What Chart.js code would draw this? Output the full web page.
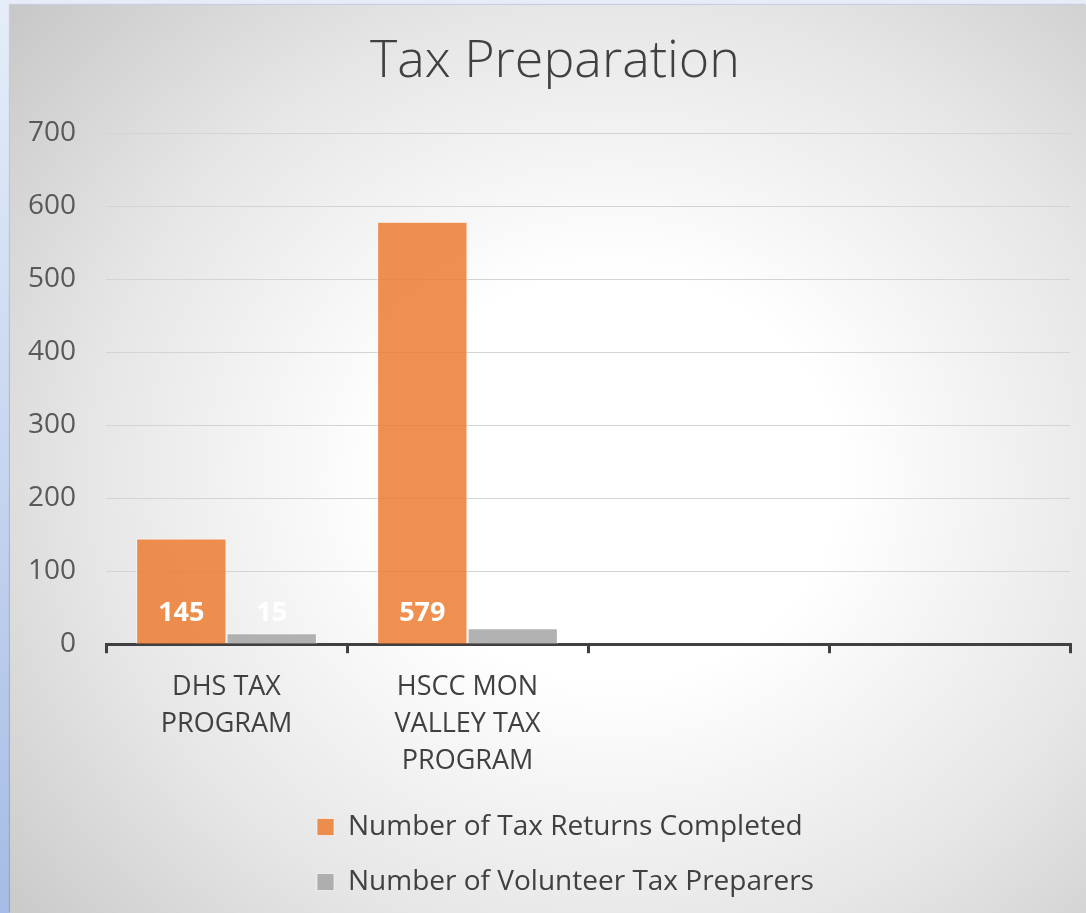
<!DOCTYPE html>
<html>
<head>
<meta charset="utf-8">
<title>Tax Preparation</title>
<script src="https://cdn.jsdelivr.net/npm/chart.js@4.4.1/dist/chart.umd.min.js"></script>
<style>
  html, body { margin: 0; padding: 0; }
  body {
    width: 1086px; height: 913px; overflow: hidden; position: relative;
    background: linear-gradient(180deg, #e6edf9 0%, #c4d3ef 55%, #a6bbe5 100%);
  }
  #panel {
    position: absolute; left: 10px; top: 5px; width: 1076px; height: 908px;
    background: radial-gradient(ellipse 75% 80% at 56% 52%, #ffffff 0%, #ffffff 28%, #e6e6e6 65%, #c6c6c6 100%);
    box-shadow: -1px -1px 1px rgba(0,0,0,0.12);
  }
  canvas { display: block; }
</style>
</head>
<body>
<div id="panel"><canvas id="taxChart" width="1076" height="908"></canvas></div>
<script>
// chart data
const categories = [['DHS TAX', 'PROGRAM'], ['HSCC MON', 'VALLEY TAX', 'PROGRAM'], '', ''];
const taxReturns = [145, 579, null, null];
const volunteers = [15, 22, null, null];
const seriesNames = ['Number of Tax Returns Completed', 'Number of Volunteer Tax Preparers'];
const yTicks = [0, 100, 200, 300, 400, 500, 600, 700];

Chart.defaults.font.family = '"Open Sans", "Noto Sans", sans-serif';

// white value labels near the bottom of each bar
const barLabels = {
    id: 'barLabels',
    afterDatasetsDraw(chart) {
        const ctx = chart.ctx;
        ctx.save();
        ctx.font = 'bold 27px "Open Sans", sans-serif';
        ctx.fillStyle = '#ffffff';
        ctx.textAlign = 'center';
        ctx.textBaseline = 'middle';
        chart.data.datasets.forEach((ds, i) => {
            const meta = chart.getDatasetMeta(i);
            meta.data.forEach((bar, j) => {
                const v = ds.data[j];
                if (v === null || v === undefined) return;
                ctx.fillText(String(v), bar.x, bar.base - 30);
            });
        });
        ctx.restore();
    }
};

// nudge title and the stacked legend to where the original has them
const blockPlacement = {
    id: 'blockPlacement',
    afterLayout(chart) {
        const tb = chart.titleBlock;
        if (tb) {
            tb.left += 21;
            tb.right += 21;
        }
        const lg = chart.legend;
        if (lg) {
            const w = lg.width;
            lg.left = 280;
            lg.right = lg.left + w;
            lg.top -= 9;
            lg.bottom -= 9;
        }
    }
};

const ctx = document.getElementById('taxChart').getContext('2d');
const chart = new Chart(ctx, {
    type: 'bar',
    data: {
        labels: categories,
        datasets: [
            {
                label: seriesNames[0],
                data: taxReturns,
                backgroundColor: 'rgba(237, 125, 49, 0.85)',
                borderColor: 'rgba(255, 255, 255, 0.6)',
                borderWidth: 1
            },
            {
                label: seriesNames[1],
                data: volunteers,
                backgroundColor: 'rgba(165, 165, 165, 0.85)',
                borderColor: 'rgba(255, 255, 255, 0.6)',
                borderWidth: 1
            }
        ]
    },
    options: {
        responsive: false,
        animation: false,
        devicePixelRatio: 1,
        layout: {
            padding: { left: -12, right: 16, top: 0, bottom: -2 }
        },
        datasets: {
            bar: { categoryPercentage: 0.75, barPercentage: 1.0 }
        },
        plugins: {
            title: {
                display: true,
                text: 'Tax Preparation',
                color: '#404040',
                font: { size: 52, weight: '300' },
                padding: { top: 26, bottom: 40 }
            },
            legend: {
                display: true,
                position: 'bottom',
                align: 'start',
                fullSize: false,
                labels: {
                    boxWidth: 17,
                    boxHeight: 17,
                    padding: 27,
                    color: '#404040',
                    font: { size: 28 }
                }
            },
            tooltip: { enabled: false }
        },
        scales: {
            x: {
                grid: {
                    offset: true,
                    drawOnChartArea: false,
                    drawTicks: true,
                    tickLength: 9,
                    color: '#404040',
                    lineWidth: 3
                },
                border: { color: '#404040', width: 3 },
                ticks: {
                    color: '#404040',
                    font: { size: 27, lineHeight: 1.38 },
                    padding: 15,
                    maxRotation: 0,
                    autoSkip: false
                }
            },
            y: {
                min: 0,
                max: 700,
                afterBuildTicks: axis => { axis.ticks = yTicks.map(v => ({ value: v })); },
                grid: { color: '#d4d4d4', lineWidth: 1, drawTicks: false },
                border: { display: false },
                ticks: {
                    color: '#595959',
                    font: { size: 28 },
                    padding: 30
                }
            }
        }
    },
    plugins: [barLabels, blockPlacement]
});
</script>
</body>
</html>
